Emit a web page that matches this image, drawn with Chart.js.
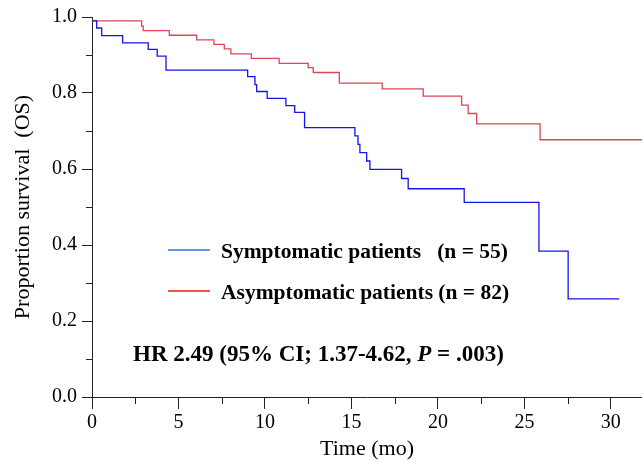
<!DOCTYPE html>
<html>
<head>
<meta charset="utf-8">
<script src="https://cdn.jsdelivr.net/npm/chart.js@4/dist/chart.umd.min.js"></script>
<style>
  html, body { margin: 0; padding: 0; background: #fff; }
  #wrap { width: 642px; height: 462px; position: relative; }
</style>
</head>
<body>
<div id="wrap"><canvas id="grafico"></canvas></div>
<script>
// Kaplan-Meier (tiempo en meses, proporcion de sobrevida)
var symTime = [0, 0.27, 0.56, 1.77, 3.25, 3.77, 4.28, 9.0, 9.42, 9.52, 10.13, 11.21, 11.72, 12.29, 15.2, 15.38, 15.49, 15.88, 16.07, 17.9, 18.28, 21.52, 25.84, 27.53, 30.48];
var symSurv = [0.99, 0.971, 0.951, 0.932, 0.915, 0.897, 0.860, 0.843, 0.822, 0.804, 0.786, 0.767, 0.749, 0.709, 0.687, 0.665, 0.643, 0.621, 0.599, 0.575, 0.548, 0.512, 0.384, 0.258, 0.258];

var asymTime = [0, 2.87, 2.96, 4.47, 6.05, 7.05, 7.65, 8.03, 9.21, 10.82, 12.5, 12.79, 14.3, 16.78, 19.15, 21.37, 21.75, 22.24, 25.91, 31.8];
var asymSurv = [0.99, 0.976, 0.964, 0.952, 0.940, 0.928, 0.916, 0.903, 0.891, 0.878, 0.867, 0.854, 0.826, 0.811, 0.792, 0.768, 0.746, 0.719, 0.677, 0.677];

var xMinorTicks = [2.5, 7.5, 12.5, 17.5, 22.5, 27.5];
var yMinorTicks = [0.1, 0.3, 0.5, 0.7, 0.9];

var legendLabels = ['Symptomatic patients   (n = 55)', 'Asymptomatic patients (n = 82)'];
var hrText = ['HR 2.49 (95% CI; 1.37-4.62, ', 'P', ' = .003)'];

function puntos(t, s) {
    var out = [];
    for (var i = 0; i < t.length; i++) {
        out.push({ x: t[i], y: s[i] });
    }
    return out;
}

var serif = '"Liberation Serif", "Times New Roman", serif';

// ticks menores, leyenda y texto HR
var extras = {
    id: 'extras',
    afterDraw: function (chart) {
        var ctx = chart.ctx;
        var xs = chart.scales.x, ys = chart.scales.y;
        ctx.save();
        ctx.strokeStyle = '#222';
        ctx.lineWidth = 1;
        ctx.beginPath();
        xMinorTicks.forEach(function (v) {
            var px = Math.round(xs.getPixelForValue(v)) + 0.5;
            ctx.moveTo(px, ys.bottom);
            ctx.lineTo(px, ys.bottom + 7);
        });
        yMinorTicks.forEach(function (v) {
            var py = Math.round(ys.getPixelForValue(v)) + 0.5;
            ctx.moveTo(xs.left, py);
            ctx.lineTo(xs.left - 6, py);
        });
        ctx.stroke();

        // leyenda
        var colores = ['#2a7ad0', '#f01818'];
        var filas = [250, 291];
        ctx.font = 'bold 21.5px ' + serif;
        ctx.fillStyle = '#000';
        ctx.textBaseline = 'alphabetic';
        for (var i = 0; i < legendLabels.length; i++) {
            ctx.strokeStyle = colores[i];
            ctx.lineWidth = 1.5;
            ctx.beginPath();
            ctx.moveTo(168, filas[i]);
            ctx.lineTo(210, filas[i]);
            ctx.stroke();
            ctx.fillText(legendLabels[i], 221, filas[i] + 8);
        }

        // HR
        var x = 133;
        var fuentes = ['bold 23px ' + serif, 'italic bold 23px ' + serif, 'bold 23px ' + serif];
        for (var j = 0; j < hrText.length; j++) {
            ctx.font = fuentes[j];
            ctx.fillText(hrText[j], x, 361);
            x += ctx.measureText(hrText[j]).width;
        }
        ctx.restore();
    }
};

var ctx = document.getElementById('grafico').getContext('2d');
var chart = new Chart(ctx, {
    type: 'line',
    data: {
        datasets: [{
            label: 'Symptomatic patients',
            data: puntos(symTime, symSurv),
            borderColor: '#1414f0',
            borderWidth: 1.3,
            stepped: true,
            pointRadius: 0,
            fill: false
        }, {
            label: 'Asymptomatic patients',
            data: puntos(asymTime, asymSurv),
            borderColor: '#dc4658',
            borderWidth: 1.3,
            stepped: true,
            pointRadius: 0,
            fill: false
        }]
    },
    options: {
        responsive: true,
        maintainAspectRatio: false,
        animation: false,
        layout: { padding: { top: 14, right: 0, left: 0, bottom: 0 } },
        plugins: {
            legend: { display: false },
            tooltip: { enabled: false }
        },
        scales: {
            x: {
                type: 'linear',
                min: 0,
                max: 31.8,
                afterFit: function (s) { s.height = 65; },
                border: { display: true, color: '#222', width: 1 },
                grid: { display: true, drawOnChartArea: false, drawTicks: true, tickLength: 12, color: '#222' },
                ticks: {
                    stepSize: 5,
                    includeBounds: false,
                    padding: 2,
                    color: '#000',
                    font: { family: serif, size: 20 }
                },
                title: {
                    display: true,
                    text: 'Time (mo)',
                    color: '#000',
                    font: { family: serif, size: 22 },
                    padding: { top: 0, bottom: 0 }
                }
            },
            y: {
                min: 0,
                max: 1,
                afterFit: function (s) { s.width = 92; },
                border: { display: true, color: '#222', width: 1 },
                grid: { display: true, drawOnChartArea: false, drawTicks: true, tickLength: 10, color: '#222' },
                ticks: {
                    stepSize: 0.2,
                    padding: 5,
                    color: '#000',
                    font: { family: serif, size: 20 },
                    callback: function (v) { return v.toFixed(1); }
                },
                title: {
                    display: true,
                    text: 'Proportion survival  (OS)',
                    color: '#000',
                    font: { family: serif, size: 22 },
                    padding: { top: 10, bottom: 0 }
                }
            }
        }
    },
    plugins: [extras]
});
</script>
</body>
</html>
